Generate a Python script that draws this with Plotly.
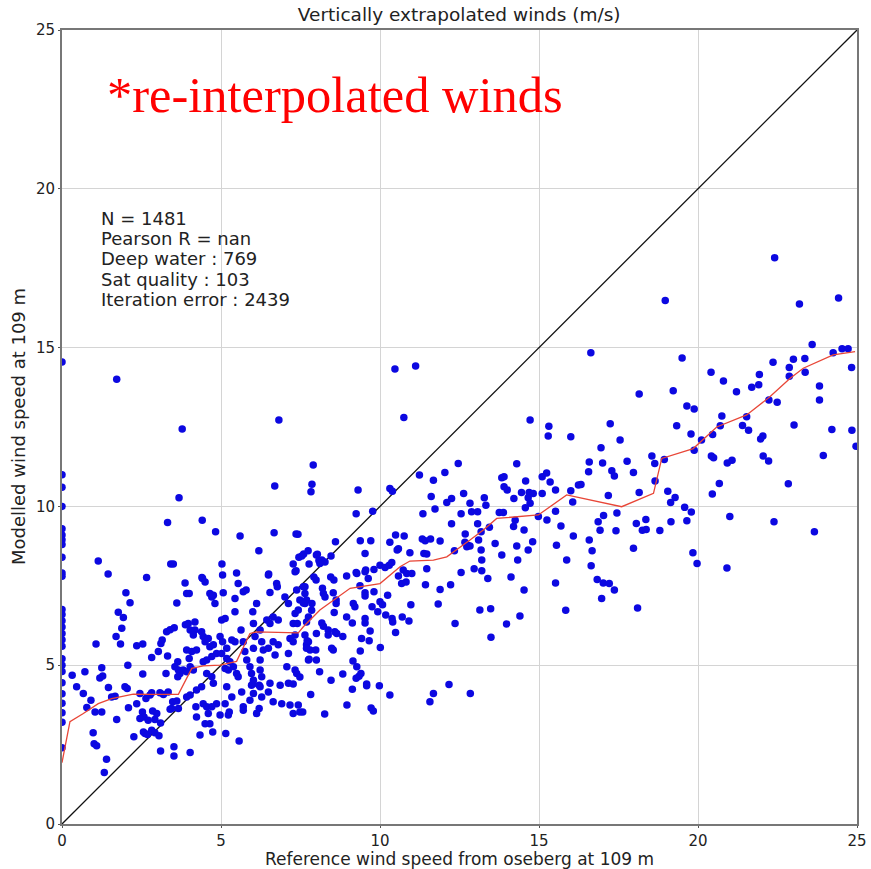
import plotly.graph_objects as go

# ---------------- data ----------------
title_text = "Vertically extrapolated winds (m/s)"
x_label = "Reference wind speed from oseberg at 109 m"
y_label = "Modelled wind speed at 109 m"
stats_lines = ["N = 1481", "Pearson R = nan", "Deep water : 769",
               "Sat quality : 103", "Iteration error : 2439"]
overlay_text = "*re-interpolated winds"
tick_vals = [0, 5, 10, 15, 20, 25]

# points sitting on x = 0
edge_y = [14.55, 11.0, 10.6, 10.0, 9.3, 9.1, 8.95, 8.8, 8.4, 7.9, 7.8, 6.75, 6.6,
          6.4, 6.2, 6.0, 5.8, 5.6, 5.2, 5.0, 4.8, 4.45, 4.1, 3.8, 3.5, 3.2, 2.4]

# upper-left scatter
upper_left_pts = [
    (1.72, 14.0), (3.78, 12.44), (6.82, 12.72), (7.9, 11.3), (6.69, 10.64), (7.86, 10.7),
    (7.83, 10.46), (3.68, 10.27), (3.32, 9.49), (4.41, 9.56), (4.83, 9.2), (5.6, 9.07),
    (6.67, 9.17), (7.36, 9.13), (7.42, 9.12), (6.19, 8.6), (1.14, 8.28), (3.42, 8.19),
    (3.5, 8.19), (5.03, 8.19), (1.45, 7.87), (2.66, 7.76), (4.4, 7.76), (5.49, 7.9),
    (6.5, 7.87), (7.27, 8.19), (7.36, 7.97), (7.45, 8.4), (7.54, 8.44), (7.6, 8.5),
    (7.74, 8.6), (7.77, 8.19), (8.0, 8.47), (8.08, 8.3),
]

# low-wind cluster (x < 8)
low_pts = [
    (2.01, 7.28), (2.14, 6.97), (1.77, 6.67), (1.93, 6.5), (1.88, 6.16), (1.7, 5.9),
    (1.84, 5.67), (1.07, 5.67), (2.35, 5.61), (2.07, 5.0), (1.25, 4.92), (1.28, 4.66),
    (1.19, 4.6), (0.72, 4.79), (0.32, 4.68), (0.46, 4.32), (0.67, 4.11), (0.91, 3.9),
    (0.78, 3.67), (1.04, 3.53), (1.25, 3.53), (1.46, 4.3), (1.98, 4.32), (2.05, 4.27),
    (1.56, 4.0), (1.67, 4.02), (1.72, 3.29), (2.09, 3.66), (2.54, 4.72), (2.35, 3.79),
    (2.64, 3.95), (2.77, 4.06), (2.53, 3.53), (2.58, 3.37), (2.71, 3.27), (2.45, 3.32),
    (2.26, 2.75), (2.56, 2.9), (2.61, 2.85), (2.69, 2.82), (2.82, 2.95), (2.92, 2.87),
    (3.05, 2.78), (0.98, 2.87), (1.01, 2.53), (1.09, 2.46), (1.4, 2.04), (1.33, 1.62),
    (2.85, 3.56), (2.92, 3.29), (2.98, 3.48), (3.1, 3.18), (3.1, 2.3), (3.52, 2.43),
    (3.52, 2.14), (4.03, 2.25), (2.54, 5.67), (2.82, 5.24), (3.03, 5.43), (3.11, 5.68),
    (3.15, 5.79), (3.29, 6.05), (3.4, 6.12), (3.53, 6.18), (3.32, 5.29), (3.27, 4.74),
    (3.19, 4.08), (3.34, 4.16), (3.48, 3.85), (3.61, 3.87), (3.4, 3.61), (3.61, 6.96),
    (3.64, 5.11), (3.66, 4.85), (3.64, 4.64), (3.71, 4.74), (3.55, 4.95), (3.87, 7.59),
    (3.92, 7.26), (4.0, 7.26), (3.88, 6.27), (3.97, 6.31), (4.03, 6.11), (4.18, 6.11),
    (4.18, 6.36), (4.13, 5.95), (3.81, 4.85), (3.92, 4.79), (4.03, 4.95), (4.13, 4.85),
    (3.92, 5.48), (4.08, 5.43), (4.23, 5.48), (4.0, 5.21), (3.92, 4.0), (4.03, 4.06),
    (4.21, 3.69), (4.23, 3.37), (4.34, 2.8), (4.23, 4.22), (4.39, 4.32), (4.42, 7.73),
    (4.5, 7.62), (4.65, 7.26), (4.71, 7.15), (4.76, 7.2), (4.81, 6.94), (4.39, 6.05),
    (4.44, 5.9), (4.5, 5.74), (4.6, 5.84), (4.65, 5.58), (4.76, 5.64), (4.71, 5.27),
    (4.86, 5.37), (4.44, 5.11), (4.55, 5.16), (4.55, 4.74), (4.71, 4.64), (4.76, 4.43),
    (4.44, 3.79), (4.55, 3.69), (4.6, 3.48), (4.65, 3.16), (4.5, 3.16), (4.74, 2.9),
    (4.86, 3.79), (5.05, 7.84), (5.07, 7.28), (5.02, 6.42), (5.13, 6.47), (5.44, 6.68),
    (5.44, 7.1), (5.54, 7.57), (5.7, 7.31), (5.79, 7.37), (4.97, 5.9), (5.05, 5.74),
    (5.18, 5.53), (5.34, 5.79), (5.44, 5.74), (5.02, 5.37), (5.18, 5.21), (5.28, 5.11),
    (5.13, 4.9), (5.23, 4.85), (5.39, 4.95), (5.49, 4.74), (5.54, 4.64), (5.18, 4.32),
    (5.34, 4.0), (4.97, 3.43), (5.23, 3.43), (5.26, 3.53), (5.15, 2.85), (5.57, 2.61),
    (5.65, 4.16), (5.7, 3.69), (5.7, 3.58), (5.63, 6.11), (5.7, 5.74), (5.75, 5.43),
    (5.81, 5.16), (5.91, 4.95), (5.96, 4.74), (6.02, 4.53), (5.96, 4.37), (6.0, 6.68),
    (6.02, 6.31), (6.07, 5.9), (6.02, 5.53), (6.12, 6.94), (6.23, 6.11), (6.28, 5.74),
    (6.33, 5.48), (6.23, 5.16), (6.23, 4.85), (6.28, 4.64), (6.23, 4.32), (6.28, 4.0),
    (6.2, 3.64), (6.12, 3.48), (6.49, 7.84), (6.54, 7.29), (6.75, 7.57), (6.77, 7.47),
    (7.01, 7.15), (7.12, 6.94), (6.44, 6.42), (6.54, 6.31), (6.64, 6.52), (6.8, 6.42),
    (6.49, 5.53), (6.64, 5.74), (6.8, 5.64), (6.7, 5.32), (6.54, 4.43), (6.86, 4.37),
    (7.12, 4.43), (6.64, 3.85), (6.91, 3.79), (7.17, 3.75), (7.43, 3.75), (7.48, 3.53),
    (7.27, 3.48), (7.07, 4.95), (7.33, 4.85), (7.38, 4.74), (7.17, 5.84), (7.27, 5.74),
    (7.12, 5.37), (7.33, 5.95), (7.27, 6.31), (7.4, 6.31), (7.33, 6.63), (7.43, 6.74),
    (7.64, 6.94), (7.69, 7.05), (7.38, 7.37), (7.64, 7.26), (7.59, 7.47), (7.48, 7.05),
    (7.33, 7.94), (7.69, 5.64), (7.8, 5.48), (8.0, 5.16), (7.75, 5.16), (7.27, 4.41),
    (6.49, 4.16), (6.0, 4.41), (6.2, 4.37), (6.02, 4.11), (5.91, 3.9), (5.13, 3.79),
    (4.71, 3.69), (3.45, 3.64), (3.66, 3.64), (2.45, 4.11), (2.82, 4.13), (3.08, 4.13),
]

# mid-range cluster (8 < x < 16)
mid_pts = [
    (10.47, 14.33), (11.12, 14.42), (10.75, 12.8), (14.72, 12.72), (15.31, 12.52),
    (15.29, 12.22), (16.0, 12.19), (12.46, 11.35), (14.3, 11.34), (11.24, 10.99),
    (12.04, 11.07), (11.68, 10.82), (9.31, 10.52), (10.31, 10.56), (10.39, 10.48),
    (13.83, 10.9), (13.9, 10.93), (13.9, 10.62), (14.0, 10.52), (14.58, 10.8),
    (15.1, 10.93), (15.24, 11.05), (15.35, 10.77), (15.52, 10.52), (14.45, 10.44),
    (14.69, 10.44), (14.82, 10.41), (15.1, 10.41), (14.66, 10.27), (16.0, 10.49),
    (16.06, 10.14), (16.24, 10.67), (11.61, 10.31), (12.25, 10.25), (12.1, 10.12),
    (12.63, 10.41), (12.83, 10.1), (13.28, 10.27), (13.33, 10.04), (14.21, 10.25),
    (11.73, 9.92), (9.25, 9.77), (9.77, 9.85), (11.35, 9.77), (12.55, 9.77),
    (12.88, 9.83), (13.07, 9.83), (13.75, 9.81), (13.88, 9.81), (14.57, 9.96),
    (14.72, 10.1), (14.98, 9.68), (15.25, 9.57), (15.52, 9.85), (15.69, 9.38),
    (12.25, 9.45), (13.07, 9.45), (13.44, 9.34), (13.18, 9.2), (14.25, 9.56),
    (14.2, 9.37), (14.53, 9.26), (16.08, 9.07), (8.6, 8.89), (9.38, 8.92), (9.71, 8.92),
    (10.49, 9.1), (10.76, 9.07), (10.31, 8.87), (10.58, 8.67), (10.54, 8.63),
    (11.33, 8.97), (11.42, 8.92), (11.59, 8.97), (11.89, 8.91), (12.68, 9.13),
    (12.67, 8.87), (12.76, 8.78), (13.1, 8.94), (13.62, 8.83), (14.3, 8.75),
    (14.66, 8.63), (14.8, 8.89), (15.55, 8.78), (8.03, 8.49), (8.17, 8.31),
    (8.27, 8.25), (8.11, 8.2), (8.46, 8.44), (9.53, 8.52), (10.94, 8.54), (11.38, 8.52),
    (11.47, 8.5), (12.34, 8.6), (12.73, 8.73), (12.83, 8.75), (13.18, 8.63), (13.2, 8.31),
    (13.83, 8.47), (14.33, 8.31), (15.87, 8.31), (10.0, 8.15), (10.16, 8.08),
    (10.29, 8.15), (10.37, 8.23), (9.55, 8.0), (9.81, 8.01), (9.25, 7.92), (8.95, 7.81),
    (8.45, 7.78), (7.92, 7.78), (10.73, 8.0), (10.84, 7.89), (11.0, 7.89), (11.47, 8.04),
    (12.55, 7.92), (12.96, 8.04), (13.2, 7.97), (14.12, 7.78),
    (15.52, 7.59), (15.84, 6.73), (14.53, 7.37), (14.4, 6.55), (13.98, 6.3), (13.49, 5.88),
    (13.14, 6.74), (13.48, 6.78), (13.39, 7.73), (12.22, 7.53), (11.89, 7.38),
    (11.83, 6.93), (12.36, 6.31), (11.43, 7.53), (10.97, 6.9), (10.68, 7.57),
    (10.82, 7.62), (10.7, 6.52), (10.91, 6.39), (10.49, 6.03), (10.24, 7.2), (10.18, 6.58),
    (10.38, 6.47), (10.4, 6.36), (10.01, 5.56), (10.0, 7.0), (10.08, 6.9), (9.93, 6.68),
    (9.81, 7.31), (9.75, 6.84), (9.69, 6.08), (9.66, 5.77), (9.42, 5.84), (9.53, 6.47),
    (9.53, 6.33), (9.16, 6.94), (9.21, 6.84), (9.53, 7.28), (9.53, 7.18), (9.37, 7.5),
    (9.63, 7.73), (9.13, 6.33), (8.95, 6.52), (8.83, 5.9), (8.64, 6.0), (8.53, 5.48),
    (8.48, 5.53), (9.38, 5.45), (9.15, 5.13), (9.27, 4.95), (9.4, 4.74), (9.34, 4.65),
    (9.25, 4.59), (8.83, 4.72), (8.46, 4.53), (8.1, 4.79), (9.58, 4.41), (9.58, 4.35),
    (9.98, 4.35), (9.13, 4.24), (10.31, 4.06), (8.96, 3.75), (9.72, 3.65), (9.79, 3.56),
    (8.26, 3.46), (7.82, 4.08), (7.57, 3.53), (7.77, 5.19), (7.48, 4.63), (7.98, 5.48),
    (8.0, 6.0), (7.75, 5.74), (7.69, 5.53), (8.37, 6.11), (8.37, 5.95), (8.58, 6.05),
    (8.17, 6.33), (8.22, 6.23), (8.56, 6.66), (8.62, 7.05), (8.62, 6.94), (8.22, 7.26),
    (8.27, 7.15), (8.53, 7.28), (8.19, 7.42), (8.55, 7.68), (7.99, 7.68), (7.64, 7.47),
    (7.86, 6.94), (7.85, 6.73), (7.75, 6.52), (7.69, 6.36), (7.59, 6.96), (7.64, 5.95),
    (7.71, 5.77), (9.27, 7.89), (9.53, 7.94), (10.58, 7.81), (11.68, 4.11), (11.57, 3.85),
    (12.17, 4.39), (12.84, 4.11),
]

# high-wind scatter (x > 16)
high_pts = [
    (22.41, 17.83), (18.97, 16.48), (23.19, 16.37), (24.42, 16.56), (16.63, 14.84),
    (19.5, 14.67), (23.59, 15.1), (24.53, 14.96), (24.72, 14.96), (24.25, 14.84),
    (22.36, 14.54), (23.0, 14.63), (23.36, 14.66), (22.87, 14.37), (22.87, 14.1),
    (23.37, 14.22), (24.83, 14.37), (20.41, 14.22), (20.8, 13.95), (21.93, 14.15),
    (21.91, 13.83), (21.69, 13.75), (21.21, 13.61), (23.82, 13.79), (23.82, 13.35),
    (18.15, 13.54), (19.22, 13.64), (19.65, 13.16), (19.88, 13.07), (22.23, 13.35),
    (22.49, 13.28), (20.75, 12.85), (21.53, 12.82), (21.4, 12.55), (21.59, 12.4),
    (20.7, 12.54), (23.02, 12.56), (24.21, 12.42), (24.84, 12.4), (17.24, 12.6),
    (17.55, 12.09), (19.33, 12.54), (19.78, 12.28), (20.46, 12.26), (20.11, 12.09),
    (19.88, 11.77), (22.04, 12.22), (21.97, 12.12), (16.95, 11.85), (16.58, 11.4),
    (16.56, 11.09), (17.0, 11.37), (17.29, 11.12), (17.37, 10.96), (17.77, 11.42),
    (17.97, 11.07), (18.55, 11.59), (18.64, 11.35), (18.65, 10.8), (18.94, 11.48),
    (20.42, 11.59), (20.49, 11.53), (20.92, 11.37), (21.07, 11.45), (22.05, 11.59),
    (22.22, 11.43), (23.94, 11.6), (24.97, 11.89), (16.32, 10.69), (17.18, 10.34),
    (18.15, 10.44), (19.05, 10.48), (19.28, 10.28), (19.14, 10.12), (19.58, 9.97),
    (19.79, 9.82), (19.65, 9.55), (20.67, 10.72), (20.45, 10.39), (22.84, 10.71),
    (17.45, 9.79), (17.03, 9.71), (16.86, 9.52), (16.92, 9.25), (17.42, 9.23),
    (18.06, 9.46), (18.25, 9.25), (18.37, 9.27), (18.36, 9.59), (18.8, 9.24),
    (19.15, 9.52), (21.0, 9.68), (22.39, 9.52), (23.66, 9.2), (16.58, 8.94),
    (16.67, 8.6), (16.64, 8.13), (17.97, 8.68), (19.84, 8.54), (19.97, 8.2),
    (20.91, 8.06), (16.83, 7.7), (17.02, 7.59), (17.21, 7.57), (17.37, 7.37),
    (16.97, 7.1), (18.1, 6.8),
]

# binned curve (red line)
curve_x = [0, 0.09, 0.25, 0.67, 1.14, 1.56, 2.24, 2.77, 3.66, 4.08, 4.44, 4.97, 5.49,
           5.91, 6.12, 7.43, 7.59, 8.11, 9.06, 10.0, 10.63, 10.94, 11.68, 12.1, 12.41,
           12.83, 13.25, 13.67, 14.98, 15.87, 17.6, 18.6, 18.86, 19.85, 20.59, 21.53,
           22.26, 22.89, 23.31, 24.25, 24.94]
curve_y = [1.93, 2.43, 3.22, 3.48, 3.79, 3.95, 4.09, 4.08, 4.08, 4.9, 4.98, 5.0, 5.12,
           6.0, 6.05, 6.02, 6.21, 6.74, 7.42, 7.57, 8.1, 8.28, 8.31, 8.41, 8.63,
           8.94, 9.26, 9.62, 9.73, 10.36, 9.99, 10.41, 11.51, 11.82, 12.5, 12.88,
           13.45, 14.03, 14.35, 14.77, 14.87]

one_to_one = [0, 25]

# ---------------- figure ----------------
all_pts = upper_left_pts + low_pts + mid_pts + high_pts
xs = [0.0] * len(edge_y) + [p[0] for p in all_pts]
ys = list(edge_y) + [p[1] for p in all_pts]

fig = go.Figure()
fig.add_trace(go.Scatter(x=one_to_one, y=one_to_one, mode="lines",
                         line=dict(color="#111111", width=1.3), hoverinfo="skip"))
fig.add_trace(go.Scatter(x=xs, y=ys, mode="markers",
                         marker=dict(color="rgb(12,8,225)", size=7.5,
                                     line=dict(width=0))))
fig.add_trace(go.Scatter(x=curve_x, y=curve_y, mode="lines",
                         line=dict(color="rgb(232,70,55)", width=1.3)))

axis_common = dict(range=[0, 25], tickvals=tick_vals, showgrid=True,
                   gridcolor="#d4d4d4", gridwidth=1, zeroline=False,
                   showline=True, linecolor="#777777", linewidth=2, mirror=True,
                   ticks="outside", ticklen=2, tickcolor="#555555",
                   automargin=False,
                   tickfont=dict(family="DejaVu Sans", size=15, color="#222222"))
fig.update_xaxes(**axis_common)
fig.update_yaxes(**axis_common)

annotations = []
# stats block
stat_y = [19.05, 18.42, 17.79, 17.16, 16.53]
for txt, yv in zip(stats_lines, stat_y):
    annotations.append(dict(x=1.15, y=yv, xref="x", yref="y", text=txt, showarrow=False,
                            xanchor="left", yanchor="middle",
                            font=dict(family="DejaVu Sans", size=18, color="#222222")))
# red overlay text
annotations.append(dict(x=1.36, y=22.95, xref="x", yref="y", text=overlay_text,
                        showarrow=False, xanchor="left", yanchor="middle",
                        font=dict(family="Liberation Serif", size=50.5, color="#ff0000")))
# axis titles
annotations.append(dict(x=0.5, y=0, xref="paper", yref="paper", text=x_label,
                        showarrow=False, xanchor="center", yanchor="middle", yshift=-35,
                        font=dict(family="DejaVu Sans", size=17, color="#222222")))
annotations.append(dict(x=0, y=0.5, xref="paper", yref="paper", text=y_label,
                        showarrow=False, xanchor="center", yanchor="middle", xshift=-44,
                        textangle=-90,
                        font=dict(family="DejaVu Sans", size=18, color="#222222")))

fig.update_layout(
    width=871, height=869,
    margin=dict(l=62, r=14, t=30, b=45, autoexpand=False),
    paper_bgcolor="white", plot_bgcolor="white",
    showlegend=False,
    title=dict(text=title_text, x=0.5272, xanchor="center", y=1 - 15 / 869,
               yref="container", yanchor="middle",
               font=dict(family="DejaVu Sans", size=18.5, color="#222222")),
    annotations=annotations,
)

fig.write_html("out.html")
